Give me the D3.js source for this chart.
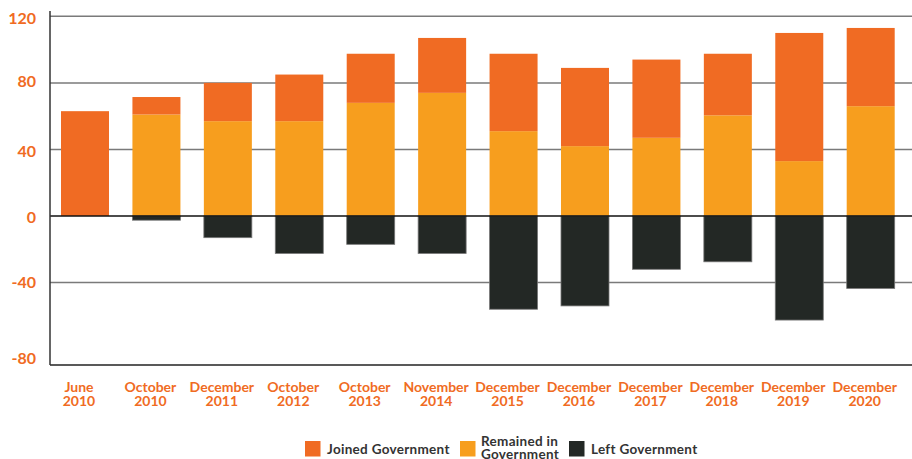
<!DOCTYPE html>
<html>
<head>
<meta charset="utf-8">
<script src="https://cdn.jsdelivr.net/npm/d3@7"></script>
<style>
  html, body { margin: 0; padding: 0; background: #fff; }
  svg { display: block; font-family: Lato, "Open Sans", sans-serif; }
</style>
</head>
<body>
<svg id="chart" width="912" height="459"></svg>
<script>
const categories = [
  ["June", "2010"], ["October", "2010"], ["December", "2011"], ["October", "2012"],
  ["October", "2013"], ["November", "2014"], ["December", "2015"], ["December", "2016"],
  ["December", "2017"], ["December", "2018"], ["December", "2019"], ["December", "2020"]
];
const remained = [0, 61, 57, 57, 68, 74, 51, 42, 47, 60.5, 33, 66];
const joined   = [63, 10.5, 23, 28, 29.5, 33, 46.5, 47, 47, 37, 77, 47];
const left     = [0, -2.5, -13, -22.5, -17, -22.5, -56, -54, -32, -27.5, -62.5, -43.5];
const gridTicks = [120, 80, 40, -40];
const tickLabels = ["120", "80", "40", "0", "-40", "-80"];
const tickLabelValues = [118, 80, 38, -2, -41, -86.5];
const legendItems = [
  { label: ["Joined Government"], color: "#F06B23" },
  { label: ["Remained in", "Government"], color: "#F79E1E" },
  { label: ["Left Government"], color: "#232825" }
];

const svg = d3.select("#chart");
const yDomain = [-89.5, 120];
const y = d3.scaleLinear().domain(yDomain).range([365, 16.3]);
const x = d3.scaleBand().domain(d3.range(categories.length)).range([61, 894.7]).paddingInner(0.328).paddingOuter(0);
const axisX = 50, rightX = 912;

// gridlines
svg.append("g").selectAll("line").data(gridTicks).join("line")
  .attr("x1", axisX).attr("x2", rightX)
  .attr("y1", d => y(d)).attr("y2", d => y(d))
  .attr("stroke", "#7a7a7a").attr("stroke-width", 1.5);

// bars
const g = svg.append("g");
categories.forEach((c, i) => {
  const bx = x(i), bw = x.bandwidth();
  if (remained[i] > 0) {
    g.append("rect").attr("x", bx).attr("width", bw)
      .attr("y", y(remained[i])).attr("height", y(0) - y(remained[i]))
      .attr("fill", "#F79E1E");
  }
  if (joined[i] > 0) {
    const top = remained[i] + joined[i];
    g.append("rect").attr("x", bx).attr("width", bw)
      .attr("y", y(top)).attr("height", y(remained[i]) - y(top))
      .attr("fill", "#F06B23");
  }
  if (left[i] < 0) {
    g.append("rect").attr("x", bx).attr("width", bw)
      .attr("y", y(0)).attr("height", y(left[i]) - y(0))
      .attr("fill", "#232825").attr("stroke", "#777").attr("stroke-width", 0.8);
  }
});

// zero line & frame
svg.append("line").attr("x1", axisX).attr("x2", rightX).attr("y1", y(0)).attr("y2", y(0))
  .attr("stroke", "#111").attr("stroke-width", 1.5);
svg.append("line").attr("x1", axisX).attr("x2", rightX).attr("y1", y(yDomain[0])).attr("y2", y(yDomain[0]))
  .attr("stroke", "#222").attr("stroke-width", 1.5);
svg.append("line").attr("x1", axisX).attr("x2", axisX).attr("y1", 11).attr("y2", y(yDomain[0]))
  .attr("stroke", "#333").attr("stroke-width", 1.5);

// y labels
svg.append("g").selectAll("text").data(tickLabels).join("text")
  .attr("x", 36).attr("y", (d, i) => y(tickLabelValues[i]))
  .attr("text-anchor", "end").attr("dominant-baseline", "middle")
  .attr("font-size", 16).attr("font-weight", 700).attr("fill", "#F06B23")
  .text(d => d);

// x labels
const xl = svg.append("g");
categories.forEach((c, i) => {
  const cx = x(i) + x.bandwidth() / 2 - 6;
  const t = xl.append("text").attr("text-anchor", "middle")
    .attr("font-size", 14).attr("font-weight", 700).attr("fill", "#F06B23");
  t.append("tspan").attr("x", cx).attr("y", 392).text(c[0]);
  t.append("tspan").attr("x", cx).attr("y", 405.5).text(c[1]);
});

// legend
const legendX = [305, 460, 569];
const lg = svg.append("g");
legendItems.forEach((it, i) => {
  lg.append("rect").attr("x", legendX[i]).attr("y", 441).attr("width", 15.5).attr("height", 15.5).attr("fill", it.color);
  const t = lg.append("text").attr("font-size", 13.5).attr("font-weight", 700).attr("fill", "#333")
    .attr("letter-spacing", 0.3);
  if (it.label.length === 1) {
    t.append("tspan").attr("x", legendX[i] + 22).attr("y", 454).text(it.label[0]);
  } else {
    t.append("tspan").attr("x", legendX[i] + 21).attr("y", 446).text(it.label[0]);
    t.append("tspan").attr("x", legendX[i] + 21).attr("y", 459).text(it.label[1]);
  }
});
</script>
</body>
</html>
